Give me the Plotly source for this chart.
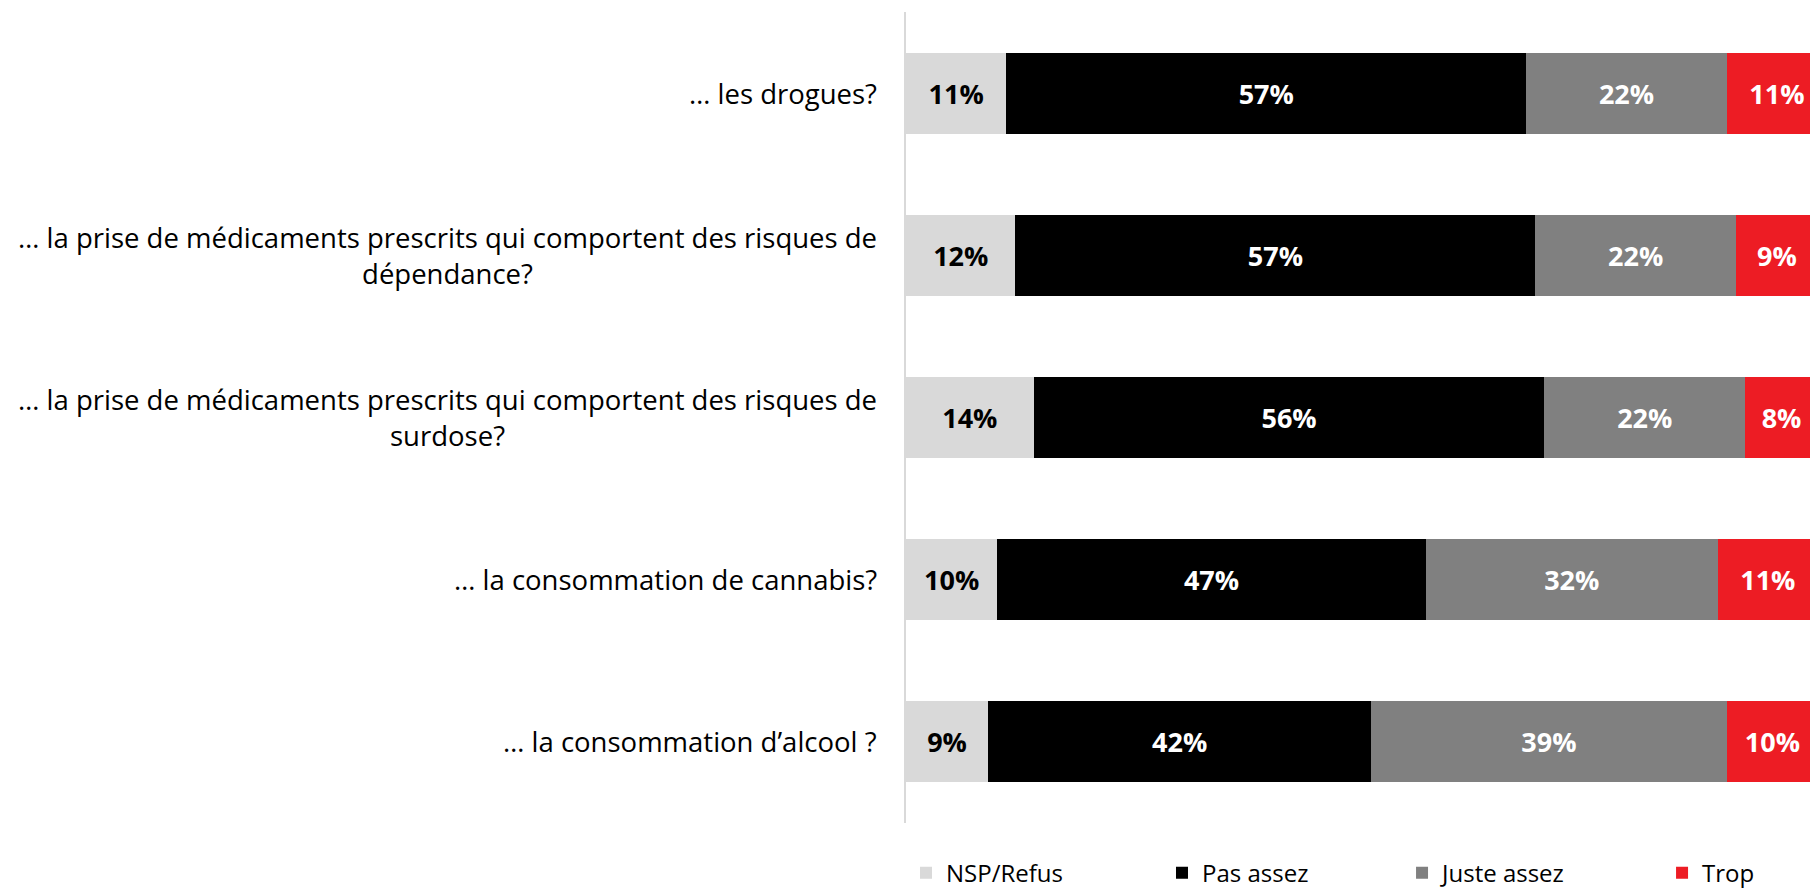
import plotly.graph_objects as go

categories = [
    "… les drogues?",
    "… la prise de médicaments prescrits qui comportent des risques de<br>dépendance?",
    "… la prise de médicaments prescrits qui comportent des risques de<br>surdose?",
    "… la consommation de cannabis?",
    "… la consommation d’alcool ?",
]
series_names = ["NSP/Refus", "Pas assez", "Juste assez", "Trop"]
nsp = [11, 12, 14, 10, 9]
pas_assez = [57, 57, 56, 47, 42]
juste_assez = [22, 22, 22, 32, 39]
trop = [11, 9, 8, 11, 10]

colors = ["#D9D9D9", "#000000", "#808080", "#ED1C24"]
text_colors = ["#000000", "#FFFFFF", "#FFFFFF", "#FFFFFF"]
legend_ids = ["legend", "legend2", "legend3", "legend4"]
legend_x = [0.0, 0.2807, 0.5439, 0.8290]

FONT = "Open Sans, sans-serif"

fig = go.Figure()
for name, vals, col, tcol, lid in zip(series_names, [nsp, pas_assez, juste_assez, trop],
                                      colors, text_colors, legend_ids):
    fig.add_trace(go.Bar(
        name=name,
        y=categories,
        x=vals,
        orientation="h",
        marker=dict(color=col, line=dict(width=0)),
        text=[f"{v}%" for v in vals],
        textposition="inside",
        insidetextanchor="middle",
        textangle=0,
        textfont=dict(family=FONT, size=27, color=tcol, weight="bold"),
        hoverinfo="skip",
        legend=lid,
    ))

for c in categories:
    fig.add_annotation(
        x=-0.030, xref="paper", xanchor="right",
        y=c, yref="y", yanchor="middle",
        text=c, showarrow=False, align="center",
        font=dict(family=FONT, size=27.5, color="#000000"),
    )

legend_common = dict(
    orientation="h",
    xanchor="left",
    y=-0.0617, yanchor="middle",
    font=dict(family=FONT, size=24, color="#000000"),
    itemclick=False,
    bgcolor="rgba(0,0,0,0)",
)

layout_legends = {}
for lid, lx in zip(legend_ids, legend_x):
    layout_legends[lid] = dict(legend_common, x=lx)

fig.update_layout(
    barmode="stack",
    bargap=0.5,
    width=1810, height=882,
    margin=dict(l=898, r=0, t=4, b=67, autoexpand=False),
    paper_bgcolor="white",
    plot_bgcolor="white",
    uniformtext=dict(mode="show", minsize=10),
    showlegend=True,
    xaxis=dict(range=[0, 100], visible=False, fixedrange=True),
    yaxis=dict(
        categoryorder="array", categoryarray=categories,
        autorange="reversed",
        showticklabels=False,
        showline=True, linecolor="#D9D9D9", linewidth=2,
        showgrid=False, zeroline=False, ticks="",
    ),
    **layout_legends,
)

fig.write_html("out.html")
